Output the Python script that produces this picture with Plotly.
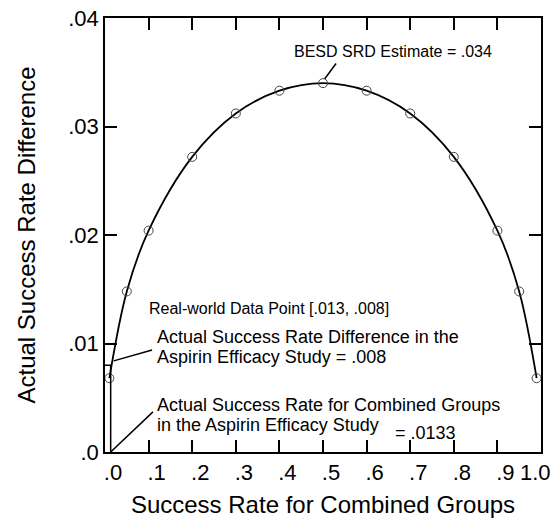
import plotly.graph_objects as go

# Success rate for combined groups and the corresponding success rate difference
rate = [0.01, 0.05, 0.1, 0.2, 0.3, 0.4, 0.5, 0.6, 0.7, 0.8, 0.9, 0.95, 0.99]
srd = [0.0068, 0.0148, 0.0204, 0.0272, 0.0312, 0.0333, 0.034,
       0.0333, 0.0312, 0.0272, 0.0204, 0.0148, 0.0068]

# Aspirin efficacy study: real-world data point
real_rate = 0.013
real_srd = 0.008
besd_peak = 0.034

x_ticks = [0, 0.1, 0.2, 0.3, 0.4, 0.5, 0.6, 0.7, 0.8, 0.9, 1.0]
x_labels = [".0", ".1", ".2", ".3", ".4", ".5", ".6", ".7", ".8", ".9", "1.0"]
y_ticks = [0, 0.01, 0.02, 0.03, 0.04]
y_labels = [".0", ".01", ".02", ".03", ".04"]

FONT = "Liberation Sans, Arial, sans-serif"
TICK_SIZE = 22

fig = go.Figure()

# SRD curve with markers at the evaluated rates
fig.add_trace(go.Scatter(
    x=rate, y=srd, mode="lines+markers",
    line=dict(color="black", width=1.8, shape="spline", smoothing=1.0),
    marker=dict(symbol="circle-open", size=9, color="#444444", line=dict(width=1)),
    hoverinfo="skip", showlegend=False,
))

# Guide lines locating the real-world data point
fig.add_trace(go.Scatter(
    x=[0, real_rate, real_rate], y=[real_srd, real_srd, 0], mode="lines",
    line=dict(color="black", width=1.5),
    hoverinfo="skip", showlegend=False,
))

peak_rate = rate[srd.index(max(srd))]

# Leader lines from the labels to the points they describe
leaders = [
    (peak_rate + 0.004, besd_peak + 0.0004, 0.53, 0.0358),
    (real_rate + 0.007, real_srd + 0.0004, 0.108, 0.0094),
    (real_rate, 0, 0.110, 0.0037),
]
for x0, y0, x1, y1 in leaders:
    fig.add_shape(type="line", xref="x", yref="y", x0=x0, y0=y0, x1=x1, y1=y1,
                  line=dict(color="black", width=1.5))

labels = [
    ("BESD SRD Estimate = .034", 0.429, 0.0369, 16),
    ("Real-world Data Point [.013, .008]", 0.096, 0.0132, 16),
    ("Actual Success Rate Difference in the", 0.115, 0.0106, 18),
    ("Aspirin Efficacy Study = .008", 0.115, 0.0088, 18),
    ("Actual Success Rate for Combined Groups", 0.115, 0.0043, 18),
    ("in the Aspirin Efficacy Study", 0.115, 0.0025, 18),
    ("= .0133", 0.66, 0.00175, 18),
]
for text, x, y, size in labels:
    fig.add_annotation(x=x, y=y, xref="x", yref="y", text=text, showarrow=False,
                       xanchor="left", yanchor="middle",
                       font=dict(family=FONT, size=size, color="black"))

# The last x tick label sits inside the right edge, so it is drawn as its own text
fig.add_annotation(x=x_ticks[-1], y=0, xref="x", yref="paper", text=x_labels[-1],
                   showarrow=False, xanchor="center", yanchor="top",
                   xshift=-6, yshift=-6,
                   font=dict(family=FONT, size=TICK_SIZE, color="black"))

axis_common = dict(
    showline=True, linecolor="black", linewidth=1.5, mirror="ticks",
    ticks="inside", ticklen=12, tickwidth=1.5, tickcolor="black",
    showgrid=False, zeroline=False, automargin=False,
    tickfont=dict(family=FONT, size=TICK_SIZE, color="black"),
)

fig.update_xaxes(
    range=[0, 1.0], tickvals=x_ticks, ticktext=x_labels[:-1] + [""],
    title=dict(text="Success Rate for Combined Groups",
               font=dict(family=FONT, size=24, color="black"), standoff=12),
    ticklabelshift=8,
    **axis_common,
)
fig.update_yaxes(
    range=[0, 0.04], tickvals=y_ticks, ticktext=y_labels,
    title=dict(text="Actual Success Rate Difference",
               font=dict(family=FONT, size=24, color="black"), standoff=26),
    **axis_common,
)

fig.update_layout(
    width=559, height=519,
    margin=dict(l=105, r=18, t=18, b=67),
    paper_bgcolor="white", plot_bgcolor="white",
    font=dict(family=FONT, color="black"),
)

fig.write_html("out.html")
